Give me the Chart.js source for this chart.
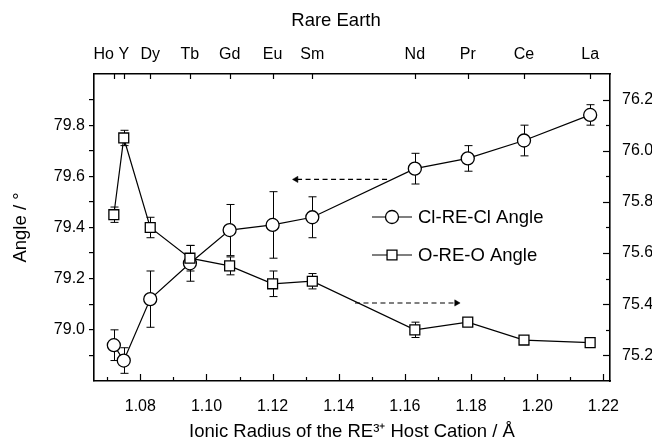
<!DOCTYPE html>
<html>
<head>
<meta charset="utf-8">
<script src="https://cdn.jsdelivr.net/npm/chart.js@4.4.1/dist/chart.umd.min.js"></script>
<style>
  html, body { margin: 0; padding: 0; background: #fff; }
  #wrap { width: 652px; height: 438px; }
</style>
</head>
<body>
<div id="wrap"><canvas id="c" width="652" height="438"></canvas></div>
<script>
// Rare-earth hosts and their ionic radii (Å)
const elements = ['Ho', 'Y', 'Dy', 'Tb', 'Gd', 'Eu', 'Sm', 'Nd', 'Pr', 'Ce', 'La'];
const ionicRadius = [1.072, 1.075, 1.083, 1.095, 1.107, 1.120, 1.132, 1.163, 1.179, 1.196, 1.216];

// Cl-RE-Cl angle (left axis) and its error
const clReClAngle = [78.94, 78.88, 79.12, 79.26, 79.39, 79.41, 79.44, 79.63, 79.67, 79.74, 79.84];
const clReClError = [0.06, 0.05, 0.11, 0.07, 0.10, 0.13, 0.08, 0.06, 0.05, 0.06, 0.04];

// O-RE-O angle (right axis) and its error
const oReOAngle = [75.75, 76.05, 75.70, 75.58, 75.55, 75.48, 75.49, 75.30, 75.33, 75.26, 75.25];
const oReOError = [0.03, 0.03, 0.04, 0.05, 0.035, 0.05, 0.03, 0.03, 0.01, 0.01, 0.01];

// Axis ticks
const radiusMajorTicks = [1.08, 1.10, 1.12, 1.14, 1.16, 1.18, 1.20, 1.22];
const radiusMinorTicks = [1.07, 1.09, 1.11, 1.13, 1.15, 1.17, 1.19, 1.21];
const leftMajorTicks = [79.0, 79.2, 79.4, 79.6, 79.8];
const leftMinorTicks = [78.9, 79.1, 79.3, 79.5, 79.7, 79.9];
const rightMajorTicks = [75.2, 75.4, 75.6, 75.8, 76.0, 76.2];
const rightMinorTicks = [75.3, 75.5, 75.7, 75.9, 76.1];

// Dashed guide arrows: [tail, head] in data units
const clArrowX = [1.1546, 1.1271];
const clArrowY = [79.588, 79.588];
const oArrowX = [1.1449, 1.1756];
const oArrowY = [75.405, 75.405];

const FONT = "'Liberation Sans', Arial, Helvetica, sans-serif";
Chart.defaults.font.family = FONT;
Chart.defaults.color = '#000';

function tickList(major, minor) {
  return major.map(v => ({ value: v, isMajor: true }))
    .concat(minor.map(v => ({ value: v, isMajor: false })))
    .sort((a, b) => a.value - b.value);
}
function labelFor(digits) {
  return function (value, index, ticks) {
    return ticks[index].isMajor ? value.toFixed(digits) : '';
  };
}
function points(xs, ys) {
  return xs.map((x, i) => ({ x: x, y: ys[i] }));
}

// Error bars drawn beneath the markers
const errorBars = {
  id: 'errorBars',
  beforeDatasetsDraw(chart) {
    const ctx = chart.ctx;
    const xs = chart.scales.x;
    ctx.save();
    ctx.strokeStyle = '#000';
    ctx.lineWidth = 1;
    chart.data.datasets.forEach(ds => {
      if (!ds.errors) return;
      const ys = chart.scales[ds.yAxisID];
      ds.data.forEach((p, i) => {
        const e = ds.errors[i];
        const px = Math.round(xs.getPixelForValue(p.x)) + 0.5;
        const top = ys.getPixelForValue(p.y + e);
        const bot = ys.getPixelForValue(p.y - e);
        ctx.beginPath();
        ctx.moveTo(px, top); ctx.lineTo(px, bot);
        ctx.moveTo(px - 4, top); ctx.lineTo(px + 4, top);
        ctx.moveTo(px - 4, bot); ctx.lineTo(px + 4, bot);
        ctx.stroke();
      });
    });
    ctx.restore();
  }
};

// Inward ticks on bottom, right and top axes, element names and top title
const frameDecor = {
  id: 'frameDecor',
  afterDraw(chart) {
    const ctx = chart.ctx;
    const area = chart.chartArea;
    const { x, x2, y2 } = chart.scales;
    ctx.save();
    ctx.strokeStyle = '#000';
    ctx.lineWidth = 1.2;
    const seg = (a, b, c, d) => { ctx.beginPath(); ctx.moveTo(a, b); ctx.lineTo(c, d); ctx.stroke(); };
    x.ticks.forEach(t => {
      const px = Math.round(x.getPixelForValue(t.value)) + 0.5;
      seg(px, area.bottom, px, area.bottom - (t.isMajor ? 7 : 4));
    });
    y2.ticks.forEach(t => {
      const py = Math.round(y2.getPixelForValue(t.value)) + 0.5;
      seg(area.right, py, area.right - (t.isMajor ? 7 : 4), py);
    });
    x2.ticks.forEach(t => {
      const px = Math.round(x2.getPixelForValue(t.value)) + 0.5;
      seg(px, area.top, px, area.top + 5);
    });

    ctx.fillStyle = '#000';
    ctx.textBaseline = 'middle';
    ctx.font = '16px ' + FONT;
    x2.ticks.forEach((t, i) => {
      const px = x2.getPixelForValue(t.value);
      const w = ctx.measureText(elements[i]).width;
      const next = x2.ticks[i + 1];
      let crowded = false;
      if (next) {
        const nx = x2.getPixelForValue(next.value);
        const nw = ctx.measureText(elements[i + 1]).width;
        crowded = px + w / 2 > nx - nw / 2 - 2;
      }
      ctx.textAlign = crowded ? 'right' : 'center';
      ctx.fillText(elements[i], px, 55);
    });

    ctx.font = '18.5px ' + FONT;
    ctx.textAlign = 'center';
    ctx.fillText('Rare Earth', (area.left + area.right) / 2 - 16, 21);
    ctx.restore();
  }
};

// Legend placed inside the plot
const innerLegend = {
  id: 'innerLegend',
  afterDatasetsDraw(chart) {
    const ctx = chart.ctx;
    const rows = chart.data.datasets.filter(d => d.label);
    const x0 = 372, x1 = 412, tx = 418;
    const rowY = [217, 255];
    ctx.save();
    rows.forEach((ds, i) => {
      const y = rowY[i];
      ctx.strokeStyle = ds.borderColor;
      ctx.lineWidth = 1.1;
      ctx.beginPath(); ctx.moveTo(x0, y); ctx.lineTo(x1, y); ctx.stroke();
      ctx.fillStyle = ds.pointBackgroundColor;
      ctx.strokeStyle = ds.pointBorderColor;
      ctx.lineWidth = ds.pointBorderWidth;
      Chart.helpers.drawPoint(ctx, {
        pointStyle: ds.pointStyle, rotation: 0,
        radius: ds.pointRadius, borderWidth: ds.pointBorderWidth
      }, (x0 + x1) / 2, y);
      ctx.fillStyle = '#000';
      ctx.font = '18.5px ' + FONT;
      ctx.textAlign = 'left';
      ctx.textBaseline = 'middle';
      ctx.fillText(ds.label, tx, y + 1);
    });
    ctx.restore();
  }
};

new Chart(document.getElementById('c'), {
  type: 'line',
  data: {
    datasets: [
      {
        label: 'Cl-RE-Cl Angle',
        data: points(ionicRadius, clReClAngle),
        errors: clReClError,
        xAxisID: 'x', yAxisID: 'y',
        borderColor: '#000', borderWidth: 1.2,
        pointStyle: 'circle', pointRadius: 6.5,
        pointBackgroundColor: '#fff', pointBorderColor: '#000', pointBorderWidth: 1.3,
        tension: 0, order: 2
      },
      {
        label: 'O-RE-O Angle',
        data: points(ionicRadius, oReOAngle),
        errors: oReOError,
        xAxisID: 'x', yAxisID: 'y2',
        borderColor: '#000', borderWidth: 1.2,
        pointStyle: 'rect', pointRadius: 7,
        pointBackgroundColor: '#fff', pointBorderColor: '#000', pointBorderWidth: 1.3,
        tension: 0, order: 1
      },
      {
        label: '',
        data: points(clArrowX, clArrowY),
        xAxisID: 'x', yAxisID: 'y',
        borderColor: '#000', borderWidth: 1.1, borderDash: [5, 3.5],
        pointStyle: 'triangle', pointRotation: -90, pointRadius: [0, 3.6],
        pointBackgroundColor: '#000', pointBorderColor: '#000', pointBorderWidth: 0.5,
        order: 3
      },
      {
        label: '',
        data: points(oArrowX, oArrowY),
        xAxisID: 'x', yAxisID: 'y2',
        borderColor: '#000', borderWidth: 1.1, borderDash: [5, 3.5],
        pointStyle: 'triangle', pointRotation: 90, pointRadius: [0, 3.6],
        pointBackgroundColor: '#000', pointBorderColor: '#000', pointBorderWidth: 0.5,
        order: 3
      }
    ]
  },
  options: {
    responsive: false,
    animation: false,
    events: [],
    layout: { padding: 0 },
    plugins: { legend: { display: false }, tooltip: { enabled: false } },
    scales: {
      x: {
        type: 'linear', position: 'bottom', min: 1.066, max: 1.222, bounds: 'data',
        afterBuildTicks: s => { s.ticks = tickList(radiusMajorTicks, radiusMinorTicks); },
        afterFit: s => { s.height = 57; },
        grid: { display: false },
        border: { display: true, color: '#000', width: 1.6 },
        ticks: { autoSkip: false, maxRotation: 0, color: '#000', font: { size: 16 }, padding: 8, callback: labelFor(2) },
        title: { display: true, text: 'Ionic Radius of the RE³⁺ Host Cation / Å', color: '#000',
                 font: { size: 18.5 }, padding: { top: 0, bottom: -5 } }
      },
      x2: {
        type: 'linear', position: 'top', min: 1.066, max: 1.222, bounds: 'data',
        afterBuildTicks: s => { s.ticks = ionicRadius.map(v => ({ value: v })); },
        afterFit: s => { s.height = 74; },
        grid: { display: false },
        border: { display: true, color: '#000', width: 1.6 },
        ticks: { display: false }
      },
      y: {
        type: 'linear', position: 'left', min: 78.8, max: 80.0, bounds: 'data',
        afterBuildTicks: s => { s.ticks = tickList(leftMajorTicks, leftMinorTicks); },
        afterFit: s => { s.width = 94; },
        grid: { display: true, drawOnChartArea: false, drawTicks: true, tickLength: 5, color: '#000', lineWidth: 1.2 },
        border: { display: true, color: '#000', width: 1.6 },
        ticks: { autoSkip: false, color: '#000', font: { size: 16 }, padding: 4, callback: labelFor(1) },
        title: { display: true, text: 'Angle / °', color: '#000', font: { size: 18.5 }, padding: { top: 10, bottom: 0 } }
      },
      y2: {
        type: 'linear', position: 'right', min: 75.1, max: 76.3, bounds: 'data',
        afterBuildTicks: s => { s.ticks = tickList(rightMajorTicks, rightMinorTicks); },
        afterFit: s => { s.width = 42; },
        grid: { display: false },
        border: { display: true, color: '#000', width: 1.6 },
        ticks: { autoSkip: false, color: '#000', font: { size: 16 }, padding: 4, callback: labelFor(1) }
      }
    }
  },
  plugins: [errorBars, frameDecor, innerLegend]
});
</script>
</body>
</html>
